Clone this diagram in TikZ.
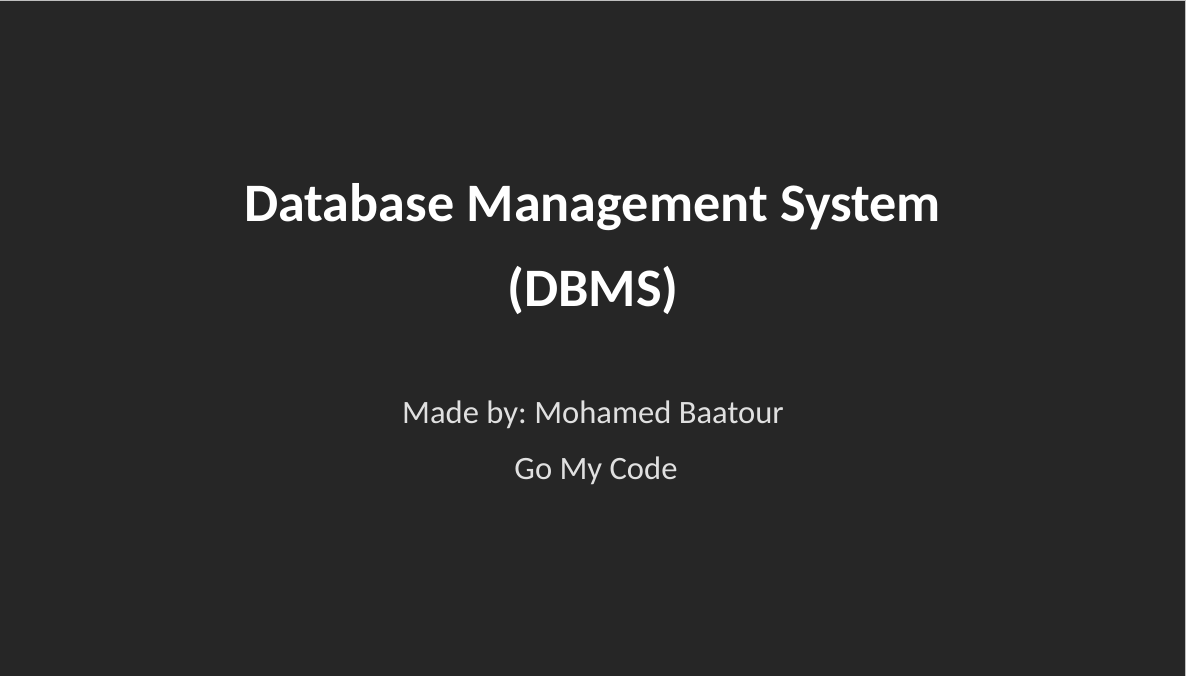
\documentclass[tikz,border=0pt]{standalone}
\usepackage{fontspec}
\setmainfont{Carlito}
\definecolor{slidebg}{HTML}{262626}
\definecolor{subgray}{HTML}{E0E0E0}
\definecolor{edgegray}{HTML}{BFBFBF}
\begin{document}
\frenchspacing
\begin{tikzpicture}[x=1pt,y=1pt,
  titletext/.style={anchor=base,text=white,font=\fontsize{54.2}{60}\selectfont\bfseries,inner sep=0pt},
  subtext/.style={anchor=base,text=subgray,font=\fontsize{32.6}{36}\selectfont,inner sep=0pt}]
\fill[slidebg] (0,0) rectangle (1186,-676);
\useasboundingbox (0,0) rectangle (1186,-676);
\draw[edgegray,line width=1pt] (0,-0.5) -- (1185.5,-0.5) -- (1185.5,-676);
\node[titletext] (t1) at (592.5,-222) {Database Management System};
\node[titletext] (t2) at (593,-307) {(DBMS)};
\node[subtext] (s1) at (593,-423) {Made by: Mohamed Baatour};
\node[subtext] (s2) at (596,-479) {Go My Code};
\end{tikzpicture}
\end{document}
